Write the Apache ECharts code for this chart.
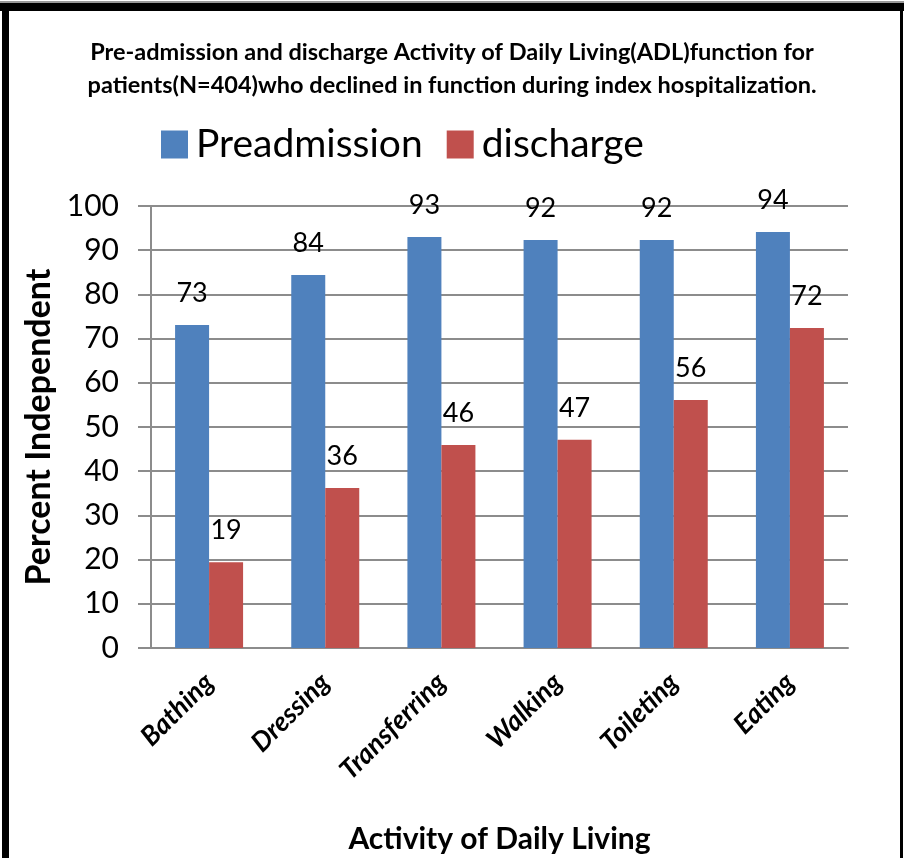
<!DOCTYPE html>
<html>
<head>
<meta charset="utf-8">
<script src="https://cdn.jsdelivr.net/npm/echarts@6/dist/echarts.min.js"></script>
<style>
    html, body { margin: 0; padding: 0; background: #fff; }
    #adl { width: 904px; height: 858px; }
</style>
</head>
<body>
<div id="adl"></div>
<script>
var activities = ['Bathing', 'Dressing', 'Transferring', 'Walking', 'Toileting', 'Eating'];
var preadmission = [73.1, 84.4, 93, 92.3, 92.3, 94.1];
var discharge = [19.4, 36.2, 45.9, 47.1, 56.1, 72.4];
var yTicks = [0, 10, 20, 30, 40, 50, 60, 70, 80, 90, 100];

var font = 'Lato';
var chart = echarts.init(document.getElementById('adl'));

chart.setOption({
    textStyle: { fontFamily: font },
    title: {
        text: 'Pre-admission and discharge Activity of Daily Living(ADL)function for\npatients(N=404)who declined in function during index hospitalization.',
        left: 'center',
        top: 31,
        textStyle: {
            fontFamily: font,
            fontSize: 23.5,
            fontWeight: 'bold',
            lineHeight: 33,
            color: '#000'
        }
    },
    legend: {
        data: ['Preadmission', 'discharge'],
        left: 156,
        top: 120,
        itemWidth: 27,
        itemHeight: 28,
        itemGap: 24,
        icon: 'rect',
        textStyle: { fontSize: 39, color: '#000', padding: [0, 0, 0, 3] }
    },
    grid: {
        left: 151,
        right: 56,
        top: 206,
        bottom: 210,
        outerBoundsMode: 'none'
    },
    xAxis: {
        type: 'category',
        data: activities,
        name: 'Activity of Daily Living',
        nameLocation: 'middle',
        nameGap: 176,
        nameTextStyle: { fontSize: 30, fontWeight: 'bold', color: '#000' },
        axisLine: { lineStyle: { color: '#8c8c8c', width: 2 } },
        axisTick: { show: false },
        axisLabel: {
            rotate: 45,
            interval: 0,
            fontSize: 27,
            fontWeight: 'bold',
            fontStyle: 'italic',
            color: '#000',
            margin: 30
        }
    },
    yAxis: {
        type: 'value',
        min: 0,
        max: 100,
        interval: 10,
        name: 'Percent Independent',
        nameLocation: 'middle',
        nameGap: 94,
        nameTextStyle: { fontSize: 34, fontWeight: 'bold', color: '#000' },
        axisLine: { show: true, lineStyle: { color: '#8c8c8c', width: 2 } },
        axisTick: { show: true, length: 13, lineStyle: { color: '#8c8c8c', width: 2 } },
        splitLine: { lineStyle: { color: '#8c8c8c', width: 2 } },
        axisLabel: {
            fontSize: 30,
            color: '#000',
            margin: 32,
            formatter: function(v) {
                return yTicks.indexOf(v) >= 0 ? String(v) : '';
            }
        }
    },
    series: [
        {
            name: 'Preadmission',
            type: 'bar',
            data: preadmission,
            barWidth: 34,
            barGap: '0%',
            itemStyle: { color: '#4f81bd' },
            label: {
                show: true,
                position: 'top',
                distance: 18,
                fontSize: 27,
                color: '#000',
                formatter: function(p) { return Math.round(p.value); }
            }
        },
        {
            name: 'discharge',
            type: 'bar',
            data: discharge,
            barWidth: 34,
            barGap: '0%',
            itemStyle: { color: '#c0504d' },
            label: {
                show: true,
                position: 'top',
                distance: 18,
                fontSize: 27,
                color: '#000',
                formatter: function(p) { return Math.round(p.value); }
            }
        }
    ],
    graphic: [
        { type: 'rect', shape: { x: 0, y: 1, width: 904, height: 2 }, style: { fill: '#999' } },
        { type: 'rect', shape: { x: 0, y: 3, width: 904, height: 8 }, style: { fill: '#000' } },
        { type: 'rect', shape: { x: 2, y: 3, width: 7, height: 855 }, style: { fill: '#000' } },
        { type: 'rect', shape: { x: 900, y: 3, width: 3, height: 855 }, style: { fill: '#000' } }
    ]
});
</script>
</body>
</html>
